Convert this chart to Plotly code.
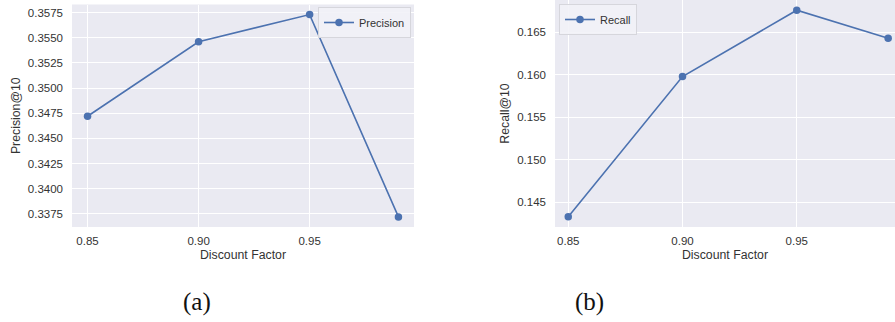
import plotly.graph_objects as go

# Discount factor sweep and the resulting top-10 metrics
discount = [0.85, 0.90, 0.95, 0.99]
precision_at_10 = [0.3472, 0.3546, 0.3573, 0.3372]
recall_at_10 = [0.1433, 0.1598, 0.1676, 0.1643]

x_ticks = [0.85, 0.90, 0.95]
precision_ticks = [0.3375, 0.3400, 0.3425, 0.3450, 0.3475, 0.3500, 0.3525, 0.3550, 0.3575]
recall_ticks = [0.145, 0.150, 0.155, 0.160, 0.165]

W, H = 895, 322
LINE = "#4C72B0"
BG = "#EAEAF2"
TXT = "#333333"
SANS = "Liberation Sans, Arial, sans-serif"


def px_x(a, b):
    return [a / W, b / W]


def px_y(top, bottom):
    return [1 - bottom / H, 1 - top / H]


fig = go.Figure()

fig.add_trace(go.Scatter(
    x=discount, y=precision_at_10, name="Precision", mode="lines+markers",
    line=dict(color=LINE, width=1.6), marker=dict(color=LINE, size=7.5),
    xaxis="x", yaxis="y", legend="legend",
))
fig.add_trace(go.Scatter(
    x=discount, y=recall_at_10, name="Recall", mode="lines+markers",
    line=dict(color=LINE, width=1.6), marker=dict(color=LINE, size=7.5),
    xaxis="x2", yaxis="y2", legend="legend2",
))

axis_common = dict(
    showgrid=True, gridcolor="white", gridwidth=1.2, zeroline=False,
    showline=False, ticks="", tickfont=dict(family=SANS, size=11.5, color=TXT),
    title_font=dict(family=SANS, size=12.3, color=TXT),
)

legend_common = dict(
    bgcolor="rgba(242,242,247,0.9)", bordercolor="#d6d6dc", borderwidth=1,
    font=dict(family=SANS, size=11, color=TXT), itemwidth=30,
    tracegroupgap=0,
)

fig.update_layout(
    width=W, height=H,
    margin=dict(l=0, r=0, t=0, b=0),
    paper_bgcolor="white",
    plot_bgcolor=BG,
    showlegend=True,
    xaxis=dict(
        domain=px_x(72, 414), range=[0.843, 0.997], anchor="y",
        tickvals=x_ticks, tickformat=".2f", ticklabelstandoff=5,
        title=dict(text="Discount Factor", standoff=4), **axis_common,
    ),
    yaxis=dict(
        domain=px_y(4.5, 227), range=[0.33620, 0.35830], anchor="x",
        tickvals=precision_ticks, tickformat=".4f", ticklabelstandoff=8,
        title=dict(text="Precision@10", standoff=4), **axis_common,
    ),
    xaxis2=dict(
        domain=px_x(555, 895), range=[0.8442, 0.9930], anchor="y2",
        tickvals=x_ticks, tickformat=".2f", ticklabelstandoff=5,
        title=dict(text="Discount Factor", standoff=4), **axis_common,
    ),
    yaxis2=dict(
        domain=px_y(0, 227), range=[0.14210, 0.16880], anchor="x2",
        tickvals=recall_ticks, tickformat=".3f", ticklabelstandoff=8,
        title=dict(text="Recall@10", standoff=4), **axis_common,
    ),
    legend=dict(x=411 / W, y=1 - 7 / H, xanchor="right", yanchor="top", **legend_common),
    legend2=dict(x=559 / W, y=1 - 4 / H, xanchor="left", yanchor="top", **legend_common),
)

# Sub-figure captions
for label, cx in (("(a)", 197), ("(b)", 589)):
    fig.add_annotation(
        text=label, x=cx / W, y=1 - 302 / H, xref="paper", yref="paper",
        xanchor="center", yanchor="middle", showarrow=False,
        font=dict(family="Liberation Serif, Times New Roman, serif", size=25, color="#111111"),
    )

fig.write_html("out.html")
